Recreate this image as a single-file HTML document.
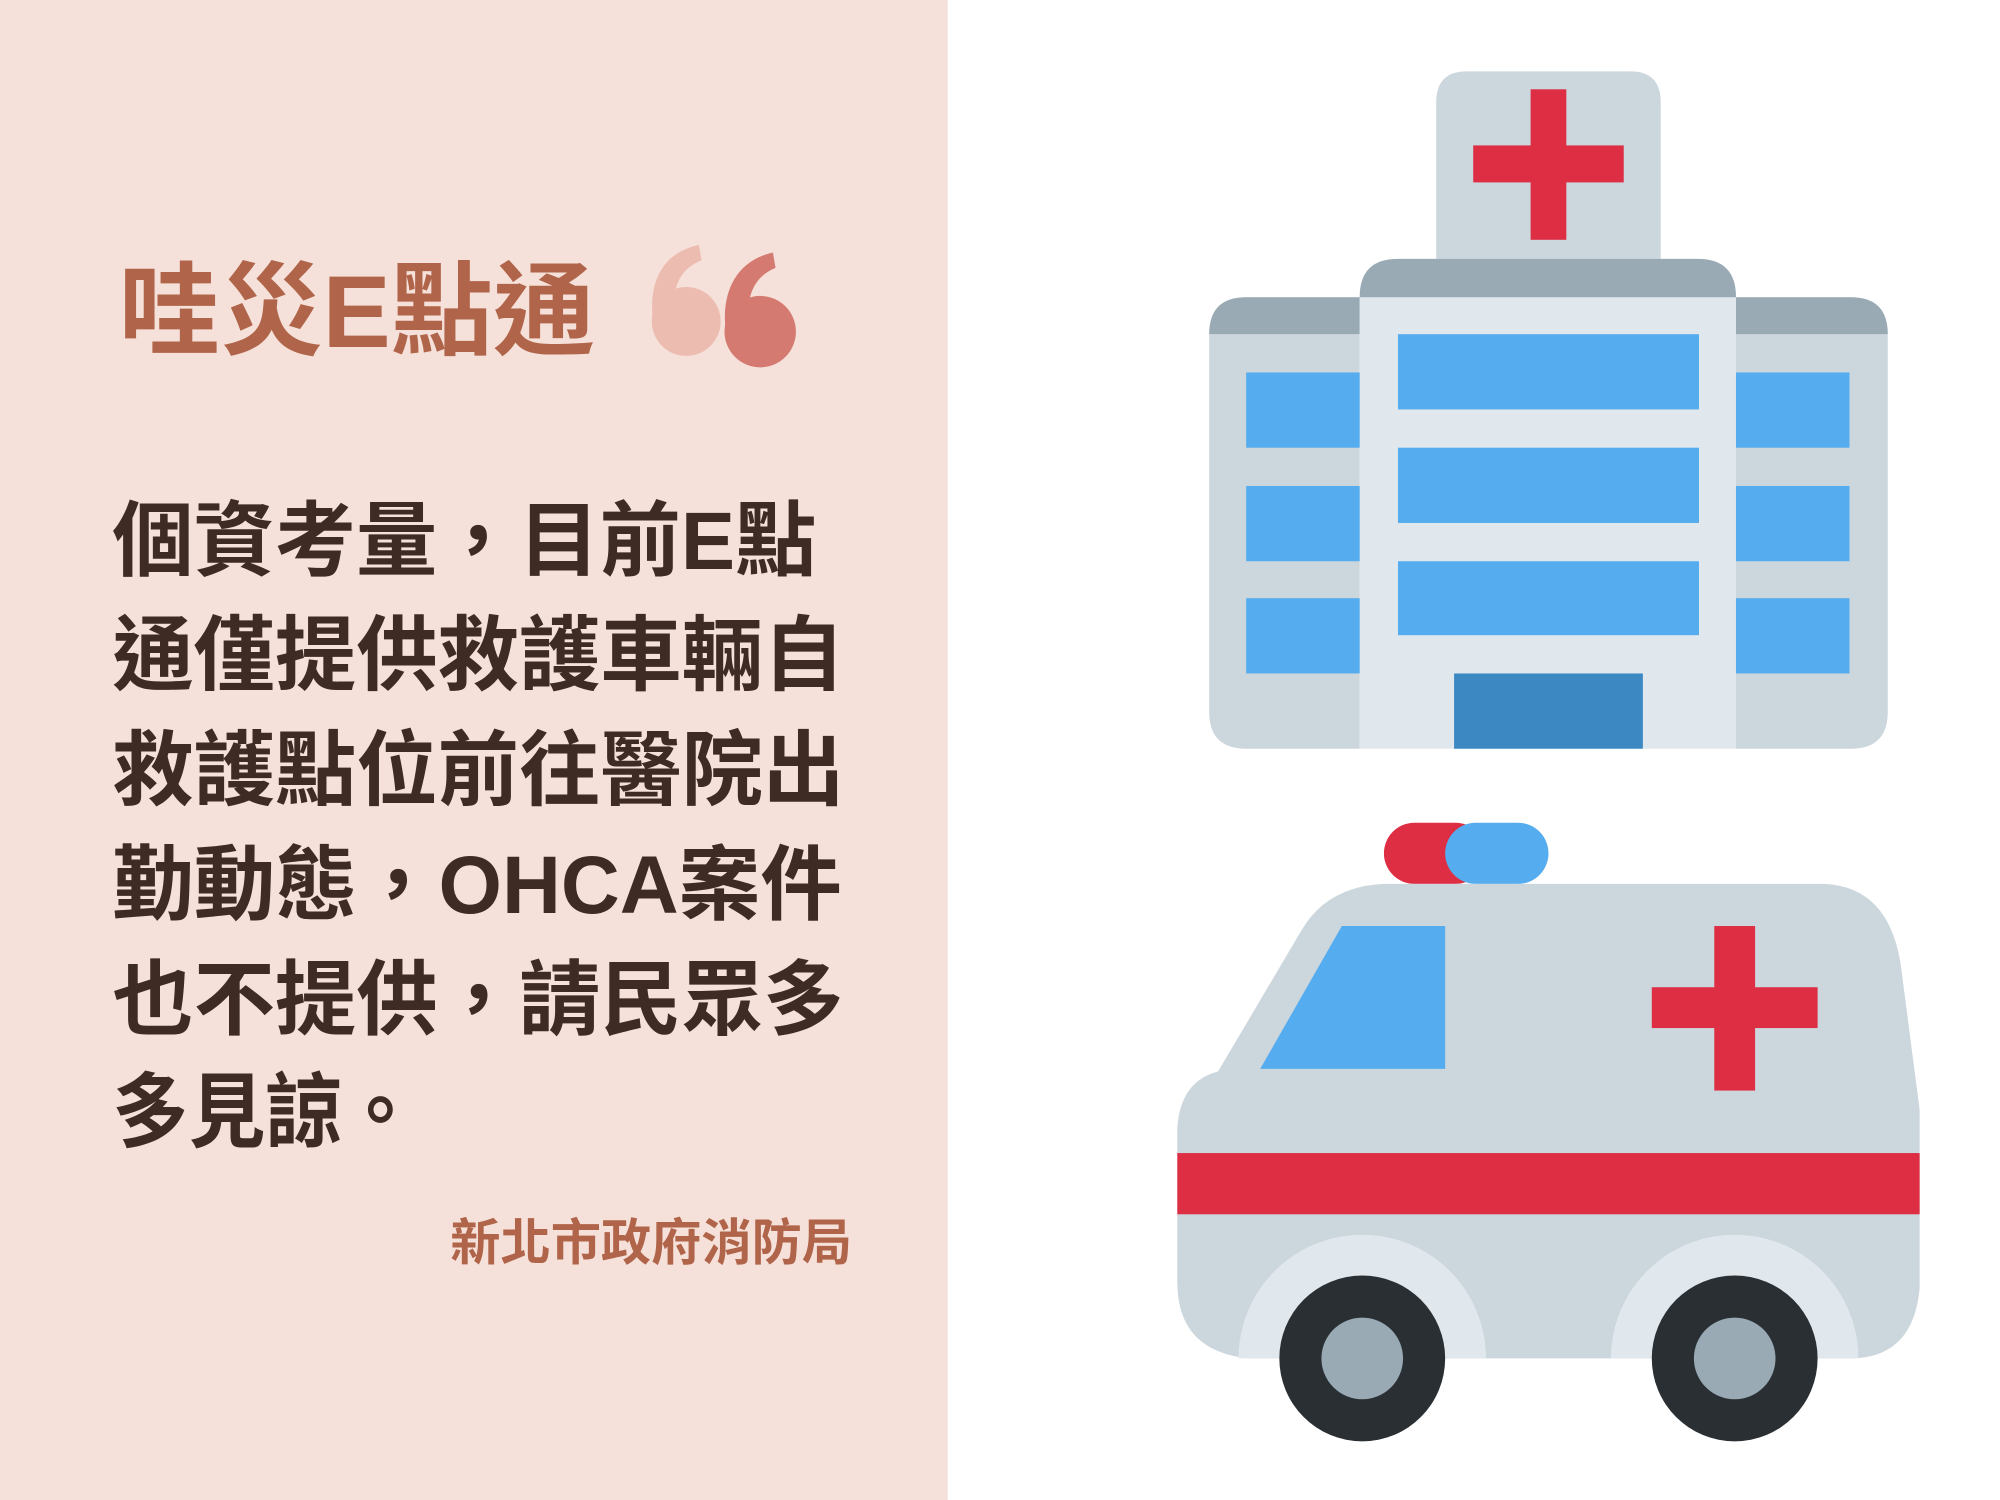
<!DOCTYPE html>
<html><head><meta charset="utf-8"><style>
html,body{margin:0;padding:0;background:#fff;}
svg{display:block;}
text{font-family:"Liberation Sans","Noto Sans CJK TC",sans-serif;font-weight:bold;}
</style></head><body>
<svg width="2000" height="1500" viewBox="0 0 1568 1176" xmlns="http://www.w3.org/2000/svg">
<rect x="0" y="0" width="1568" height="1176" fill="#fff"/>
<rect x="0" y="0" width="743" height="1176" fill="#f6e1da"/>
<text x="93" y="272" font-size="80" fill="#b0654a">哇災E點通</text>
<g>
<circle cx="538" cy="252" r="27" fill="#ecbcb0"/>
<path d="M512,252 C508,220 520,198 548,192 L550,204 C530,212 526,230 530,252 Z" fill="#ecbcb0"/>
<circle cx="596" cy="260" r="28" fill="#d47a70"/>
<path d="M569,260 C565,228 578,204 606,198 L608,210 C588,218 584,238 588,260 Z" fill="#d47a70"/>
</g>
<g font-size="64" fill="#3d2b24">
<text x="88" y="446" textLength="552" lengthAdjust="spacingAndGlyphs">個資考量，目前E點</text>
<text x="88" y="536" textLength="574" lengthAdjust="spacingAndGlyphs">通僅提供救護車輛自</text>
<text x="88" y="626" textLength="574" lengthAdjust="spacingAndGlyphs">救護點位前往醫院出</text>
<text x="88" y="716" textLength="572" lengthAdjust="spacingAndGlyphs">勤動態，OHCA案件</text>
<text x="88" y="806" textLength="574" lengthAdjust="spacingAndGlyphs">也不提供，請民眾多</text>
<text x="88" y="894" textLength="240" lengthAdjust="spacingAndGlyphs">多見諒。</text>
</g>
<text x="668" y="988" font-size="39" fill="#b0654a" text-anchor="end" textLength="315" lengthAdjust="spacingAndGlyphs">新北市政府消防局</text>

<g>
<path d="M1126,205 V80 Q1126,56 1150,56 H1278 Q1302,56 1302,80 V205 Z" fill="#ccd6dd"/>
<rect x="1200" y="70" width="28" height="118" fill="#dd2e44"/>
<rect x="1155" y="114" width="118" height="29" fill="#dd2e44"/>
<path d="M948,262 Q948,233 977,233 H1066 V587 H977 Q948,587 948,558 Z" fill="#ccd6dd"/>
<path d="M948,262 Q948,233 977,233 H1066 V262 Z" fill="#99aab5"/>
<path d="M1361,233 H1451 Q1480,233 1480,262 V558 Q1480,587 1451,587 H1361 Z" fill="#ccd6dd"/>
<path d="M1361,233 H1451 Q1480,233 1480,262 H1361 Z" fill="#99aab5"/>
<path d="M1066,233 Q1066,203 1096,203 H1331 Q1361,203 1361,233 V587 H1066 Z" fill="#e1e8ed"/>
<path d="M1066,233 Q1066,203 1096,203 H1331 Q1361,203 1361,233 Z" fill="#99aab5"/>
<g fill="#55acee">
<rect x="1096" y="262" width="236" height="59"/>
<rect x="1096" y="351" width="236" height="59"/>
<rect x="1096" y="440" width="236" height="58"/>
<rect x="977" y="292" width="89" height="59"/>
<rect x="977" y="381" width="89" height="59"/>
<rect x="977" y="469" width="89" height="59"/>
<rect x="1361" y="292" width="89" height="59"/>
<rect x="1361" y="381" width="89" height="59"/>
<rect x="1361" y="469" width="89" height="59"/>
</g>
<rect x="1140" y="528" width="148" height="59" fill="#3b88c3"/>
</g>

<g>
<rect x="1085" y="645" width="80" height="48" rx="24" fill="#dd2e44"/>
<rect x="1133" y="645" width="81" height="48" rx="24" fill="#55acee"/>
<path d="M955,840 L1020,730 Q1040,695 1085,693 H1430 Q1480,695 1490,755 L1505,870 V1010 Q1500,1065 1450,1065 H980 Q923,1060 923,1005 V885 Q925,848 955,840 Z" fill="#ccd6dd"/>
<polygon points="988,838 1052,726 1133,726 1133,838" fill="#55acee"/>
<rect x="1344" y="726" width="32" height="129" fill="#dd2e44"/>
<rect x="1295" y="774" width="130" height="32" fill="#dd2e44"/>
<rect x="923" y="904" width="582" height="48" fill="#dd2e44"/>
<path d="M971,1065 A97,97 0 0 1 1165,1065 Z" fill="#e1e8ed"/>
<path d="M1263,1065 A97,97 0 0 1 1457,1065 Z" fill="#e1e8ed"/>
<circle cx="1068" cy="1065" r="65" fill="#292f33"/>
<circle cx="1360" cy="1065" r="65" fill="#292f33"/>
<circle cx="1068" cy="1065" r="32" fill="#99aab5"/>
<circle cx="1360" cy="1065" r="32" fill="#99aab5"/>
</g>
</svg>
</body></html>
